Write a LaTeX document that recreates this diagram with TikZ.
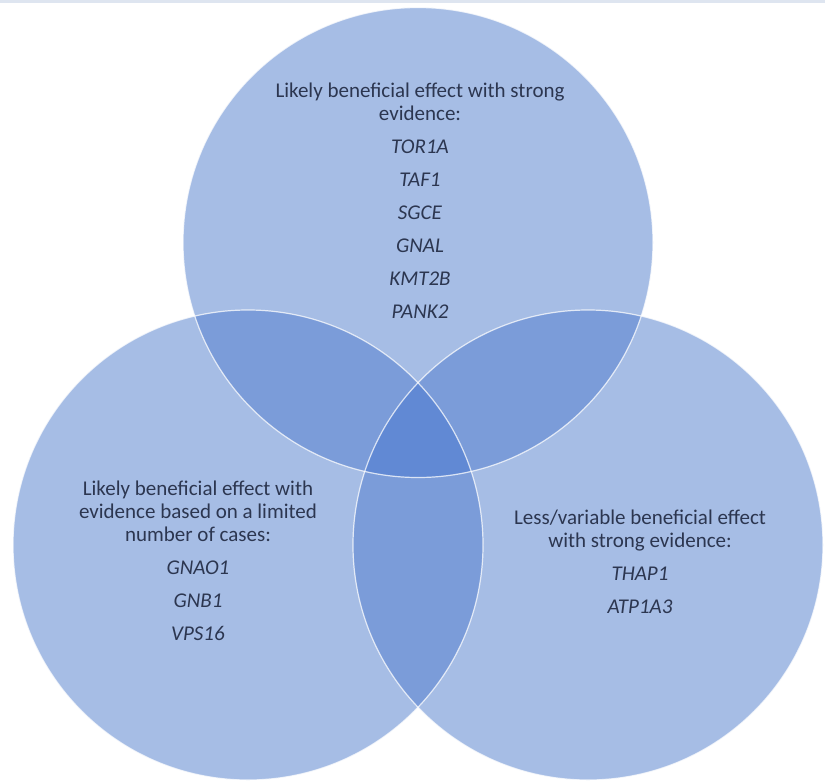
\documentclass[tikz,border=0pt]{standalone}
\usepackage{fontspec}
\setmainfont{Carlito}
\definecolor{one}{RGB}{166,189,229}
\definecolor{two}{RGB}{123,156,217}
\definecolor{three}{RGB}{97,137,212}
\definecolor{txt}{RGB}{44,54,80}
\definecolor{band}{RGB}{222,229,240}
\begin{document}
\begin{tikzpicture}[x=1pt,y=-1pt,
  lbl/.style={text=txt, align=center, font=\fontsize{21}{23}\selectfont, inner sep=0pt, anchor=base},
  ring/.style={draw=white, draw opacity=0.75, line width=1.2pt}]
\useasboundingbox (0,0) rectangle (825,780);
\fill[white] (0,0) rectangle (825,780);
\fill[band] (0,0) rectangle (825,3);
\clip (0,0) rectangle (825,780);
\coordinate (T) at (418,242.5);
\coordinate (L) at (248,545);
\coordinate (R) at (588,545);
\fill[one] (T) circle (235pt);
\fill[one] (L) circle (235pt);
\fill[one] (R) circle (235pt);
\begin{scope}
  \clip (T) circle (235pt);
  \fill[two] (L) circle (235pt);
  \fill[two] (R) circle (235pt);
\end{scope}
\begin{scope}
  \clip (L) circle (235pt);
  \fill[two] (R) circle (235pt);
\end{scope}
\begin{scope}
  \clip (T) circle (235pt);
  \clip (L) circle (235pt);
  \fill[three] (R) circle (235pt);
\end{scope}
\draw[ring] (T) circle (235pt);
\draw[ring] (L) circle (235pt);
\draw[ring] (R) circle (235pt);
\node[lbl] (topt) at (420,318) {Likely beneficial effect with strong\\evidence:\\[10pt]
  \textit{TOR1A}\\[10pt]\textit{TAF1}\\[10pt]\textit{SGCE}\\[10pt]\textit{GNAL}\\[10pt]\textit{KMT2B}\\[10pt]\textit{PANK2}};
\node[lbl] (leftt) at (198,640) {Likely beneficial effect with\\evidence based on a limited\\number of cases:\\[10pt]
  \textit{GNAO1}\\[10pt]\textit{GNB1}\\[10pt]\textit{VPS16}};
\node[lbl] (rightt) at (640,613) {Less/variable beneficial effect\\with strong evidence:\\[10pt]
  \textit{THAP1}\\[10pt]\textit{ATP1A3}};
\end{tikzpicture}
\end{document}
